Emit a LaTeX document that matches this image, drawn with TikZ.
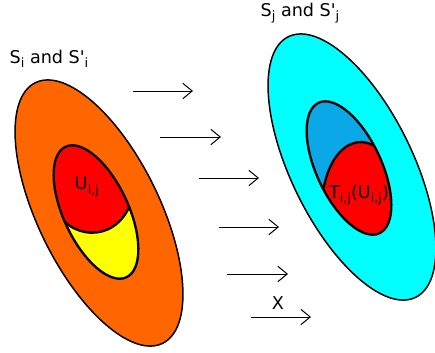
\documentclass[tikz,border=0pt]{standalone}
\usepackage{fontspec}
\setmainfont{DejaVu Sans}
\usetikzlibrary{arrows.meta}
\definecolor{SetOrange}{HTML}{FF6600}
\definecolor{SetYellow}{HTML}{FFFF00}
\definecolor{SetRed}{HTML}{FF0000}
\definecolor{SetCyan}{HTML}{00FFFF}
\definecolor{SetBlue}{HTML}{0BA8E8}
\newcommand\lowsub[1]{\raisebox{-0.45ex}{\fontsize{11}{13}\selectfont #1}}
\tikzset{
  outerset/.style={draw=black,line width=0.45mm},
  innerset/.style={draw=black,line width=0.7mm},
  cutline/.style={draw=black,line width=0.7mm},
  maparrow/.style={-{Straight Barb[length=2.8mm,width=4.6mm]},black,line width=0.3mm},
  setlabel/.style={font=\fontsize{15}{17}\selectfont,inner sep=0pt},
}

\begin{document}
\begin{tikzpicture}[x=0.3mm,y=0.3mm]
    \useasboundingbox (0,0) rectangle (435,-352);

    % source set
    \filldraw[fill=SetOrange,outerset] (99,-213) ellipse [x radius=145,y radius=61,rotate=-64];
    \fill[SetYellow] (96,-212) ellipse [x radius=72,y radius=32.5,rotate=-65];
    \begin{scope}
      \clip (96,-212) ellipse [x radius=72,y radius=32.5,rotate=-65];
      \fill[SetRed] (40,-214) -- (58,-214) .. controls (75,-240) and (118,-242) .. (132,-200)
        -- (180,-200) -- (180,-100) -- (40,-100) -- cycle;
      \draw[cutline] (58,-214) .. controls (75,-240) and (118,-242) .. (132,-200);
    \end{scope}
    \draw[innerset] (96,-212) ellipse [x radius=72,y radius=32.5,rotate=-65];

    % target set
    \filldraw[fill=SetCyan,outerset] (352,-167) ellipse [x radius=145,y radius=61,rotate=-64];
    \fill[SetBlue] (349,-168) ellipse [x radius=72,y radius=32.5,rotate=-65];
    \begin{scope}
      \clip (349,-168) ellipse [x radius=72,y radius=32.5,rotate=-65];
      \fill[SetRed] (322,-200) .. controls (328,-136) and (372,-126) .. (390,-165)
        -- (420,-165) -- (420,-260) -- (300,-260) -- (300,-200) -- cycle;
      \draw[cutline] (322,-200) .. controls (328,-136) and (372,-126) .. (390,-165);
    \end{scope}
    \draw[innerset] (349,-168) ellipse [x radius=72,y radius=32.5,rotate=-65];

    % labels
    \node[setlabel] (labSi) at (49,-59) {S\lowsub{i} and S\textquotesingle\lowsub{i}};
    \node[setlabel] (labSj) at (300,-13) {S\lowsub{j} and S\textquotesingle\lowsub{j}};
    \node[setlabel] (labU) at (87,-187) {U\lowsub{i,j}};
    \node[setlabel] (labT) at (359,-195) {T\lowsub{i,j}(U\lowsub{i,j})};
    \node[setlabel] (labX) at (278,-303) {X};

    % the map
    \foreach \n/\xa/\xb/\yy in {1/133/193/91,2/160/221/137,3/199/259/178,
                               4/219/279/227,5/227/288/274,6/251/311/317}{
      \coordinate (from\n) at (\xa,-\yy);
      \coordinate (to\n) at (\xb,-\yy);
      \draw[maparrow] (from\n) -- (to\n);
    }
\end{tikzpicture}
\end{document}
